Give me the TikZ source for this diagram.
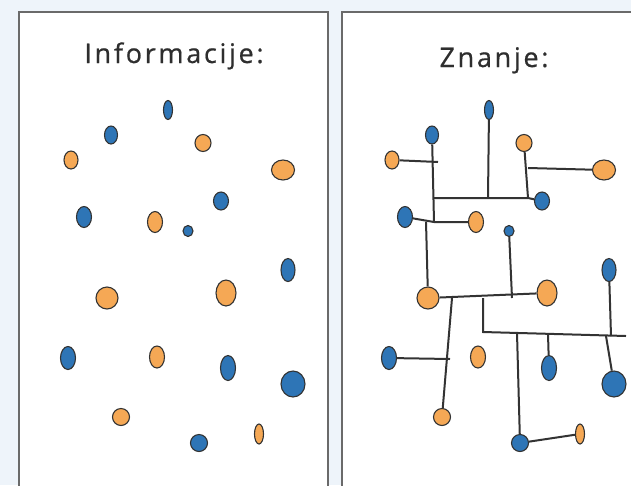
\documentclass[tikz,border=0pt]{standalone}
\usepackage{fontspec}
\setmainfont{Open Sans}
\newfontfamily\naslovfont[LetterSpace=10,FakeBold=0.6]{Open Sans}
\usetikzlibrary{shapes.geometric}

\definecolor{pozadina}{HTML}{EEF4FA}
\definecolor{plava}{HTML}{2E75B6}
\definecolor{narandzasta}{HTML}{F5A855}
\definecolor{okvir}{HTML}{6A6A6A}
\definecolor{linija}{HTML}{333333}

\begin{document}
\begin{tikzpicture}[x=1pt,y=-1pt,
	tacka/.style={ellipse,draw=black!80,line width=1.1pt,inner sep=0pt},
	veza/.style={draw=linija,line width=2pt},
	panel/.style={draw=okvir,fill=white,line width=2pt},
	naslov/.style={anchor=base,text=black!82,font=\naslovfont\fontsize{27}{32}\selectfont}]
	\useasboundingbox (0,0) rectangle (631,485);
	\fill[pozadina] (0,0) rectangle (631,485);
	\clip (0,0) rectangle (631,485);
	
	% dva panela
	\draw[panel] (19,12) rectangle (328,500);
	\draw[panel] (342,12) rectangle (650,500);
	\node[naslov] (info) at (174,63) {Informacije:};
	\node[naslov] (znanje) at (494,67) {Znanje:};
	
	% tacke: ime/x/y/sirina/visina/boja (desni panel je pomjeren za 321)
	\foreach \ime/\px/\py/\w/\h/\boja in {
		b1/168/110/9/19/plava,
		b2/111/135/13/18/plava,
		o1/203/143/16/17/narandzasta,
		o2/71/160/14/18/narandzasta,
		o3/283/170/23/20/narandzasta,
		b3/221/201/15/18/plava,
		b4/84/217/15/21/plava,
		o4/155/222/15/21/narandzasta,
		b5/188/231/10/11/plava,
		b6/288/270/14/23/plava,
		o5/107/298/22/22/narandzasta,
		o6/226/293/20/26/narandzasta,
		b7/68/358/15/23/plava,
		o7/157/357/15/22/narandzasta,
		b8/228/368/15/25/plava,
		b9/293/384/24/26/plava,
		o8/121/417/17/17/narandzasta,
		b10/199/443/17/17/plava,
		o9/259/434/9/20/narandzasta}{
		\node[tacka,fill=\boja,minimum width=\w pt,minimum height=\h pt] (L-\ime) at (\px,\py) {};
		\node[tacka,fill=\boja,minimum width=\w pt,minimum height=\h pt] (R-\ime) at (\px+321,\py) {};
	}
	
	% cvorovi veza
	\coordinate (j1) at (438,162);
	\coordinate (j2) at (434,198);
	\coordinate (j3) at (434,222);
	\coordinate (j4) at (488,198);
	\coordinate (j5) at (528,198);
	\coordinate (j6) at (528,168);
	\coordinate (j7) at (426,222);
	\coordinate (j8) at (452,298);
	\coordinate (j9) at (483,298);
	\coordinate (j10) at (512,298);
	\coordinate (j11) at (450,359);
	\coordinate (j12) at (483,332);
	\coordinate (j13) at (517,333);
	\coordinate (j14) at (548,334);
	\coordinate (j15) at (606,336);
	\coordinate (j16) at (611,336);
	\coordinate (j17) at (626,336);
	
	\draw[veza] (R-o2) -- (j1);
	\draw[veza] (R-b2) -- (j3);
	\draw[veza] (j2) -- (j5) -- (R-b3);
	\draw[veza] (R-b1) -- (j4);
	\draw[veza] (R-o1) -- (j5);
	\draw[veza] (j6) -- (R-o3);
	\draw[veza] (R-b4) -- (j3) -- (R-o4);
	\draw[veza] (j7) -- (R-o5);
	\draw[veza] (R-o5) -- (R-o6);
	\draw[veza] (R-b5) -- (j10);
	\draw[veza] (j8) -- (R-o8);
	\draw[veza] (R-b7) -- (j11);
	\draw[veza] (j9) -- (j12) -- (j17);
	\draw[veza] (j13) -- (R-b10);
	\draw[veza] (j14) -- (R-b8);
	\draw[veza] (R-b6) -- (j16);
	\draw[veza] (j15) -- (R-b9);
	\draw[veza] (R-b10) -- (R-o9);
\end{tikzpicture}
\end{document}
